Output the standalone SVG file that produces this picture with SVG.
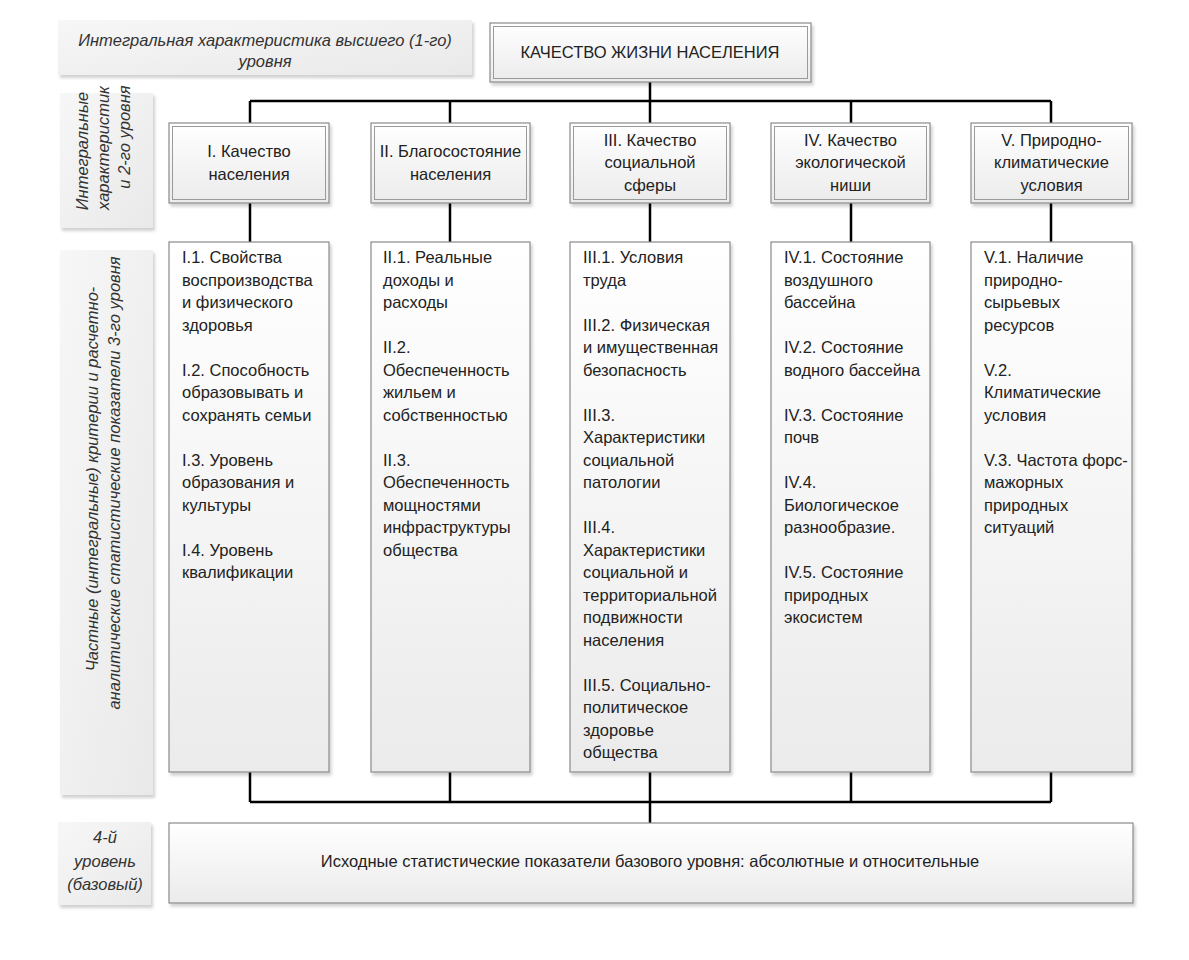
<svg xmlns="http://www.w3.org/2000/svg" width="1189" height="960" viewBox="0 0 1189 960">
<style>
.t{font-family:"Liberation Sans",Arial,sans-serif;font-size:16.5px;fill:#222}
.c{text-anchor:middle}
.it{font-family:"Liberation Sans",Arial,sans-serif;font-style:italic;font-size:16.5px;fill:#333;text-anchor:middle}
.box{fill:url(#g1);stroke:#8a8a8a;stroke-width:1.2}
.inner{fill:none;stroke:#9a9a9a;stroke-width:1}
.lbl{fill:url(#g2)}
.con{fill:none;stroke:#000;stroke-width:2.5}
</style>
<defs>
<linearGradient id="g1" x1="0" y1="0" x2="0" y2="1"><stop offset="0" stop-color="#ffffff"/><stop offset="1" stop-color="#ebebeb"/></linearGradient>
<linearGradient id="g2" x1="0" y1="0" x2="1" y2="1"><stop offset="0" stop-color="#f7f7f7"/><stop offset="1" stop-color="#e9e9e9"/></linearGradient>
<filter id="sh" x="-5%" y="-5%" width="115%" height="115%"><feDropShadow dx="2" dy="3" stdDeviation="1.5" flood-color="#000" flood-opacity="0.18"/></filter>
</defs>
<rect width="1189" height="960" fill="#ffffff"/>

<g id="connectors">
<path class="con" d="M650,82V101M250,101H1051M250,101V123M450,101V123M650,101V123M851,101V123M1051,101V123"/>
<path class="con" d="M250,203V242M450,203V242M650,203V242M851,203V242M1051,203V242"/>
<path class="con" d="M250,772V802M450,772V802M650,772V802M851,772V802M1051,772V802M250,802H1051M650,802V823"/>
</g>

<g id="label-level1">
<rect class="lbl" x="58" y="20" width="414" height="55" filter="url(#sh)"/>
<text class="it" x="265" y="46" font-size="18.2">Интегральная характеристика высшего (1-го)</text>
<text class="it" x="265" y="67" font-size="18.2">уровня</text>
</g>

<g id="label-level2">
<rect class="lbl" x="60" y="93" width="93" height="135" filter="url(#sh)"/>
<text class="it" font-size="17" transform="translate(88,151) rotate(-90)">Интегральные</text>
<text class="it" font-size="17" transform="translate(109,148) rotate(-90)">характеристик</text>
<text class="it" font-size="17" transform="translate(130,137) rotate(-90)">и 2-го уровня</text>
</g>

<g id="label-level3">
<rect class="lbl" x="60" y="250" width="93" height="545" filter="url(#sh)"/>
<text class="it" font-size="17.8" transform="translate(98,479) rotate(-90)">Частные (интегральные) критерии и расчетно-</text>
<text class="it" font-size="17.8" transform="translate(120,483) rotate(-90)">аналитические статистические показатели 3-го уровня</text>
</g>

<g id="label-level4">
<rect class="lbl" x="58" y="822" width="93" height="83" filter="url(#sh)"/>
<text class="it" x="105" y="843" font-size="17">4-й</text>
<text class="it" x="105" y="867" font-size="17">уровень</text>
<text class="it" x="105" y="890" font-size="17">(базовый)</text>
</g>

<g id="top">
<rect class="box" x="490" y="23" width="321" height="59" filter="url(#sh)"/>
<rect class="inner" x="493.5" y="26.5" width="314" height="52"/>
<text class="t c" x="650" y="58" font-size="16.3">КАЧЕСТВО ЖИЗНИ НАСЕЛЕНИЯ</text>
</g>

<g id="n1">
<rect class="box" x="169" y="123" width="160" height="80" filter="url(#sh)"/>
<rect class="inner" x="172.5" y="126.5" width="153" height="73"/>
<text class="t c" x="249" y="157">I. Качество</text>
<text class="t c" x="249" y="180">населения</text>
</g>
<g id="n2">
<rect class="box" x="371" y="123" width="159" height="80" filter="url(#sh)"/>
<rect class="inner" x="374.5" y="126.5" width="152" height="73"/>
<text class="t c" x="450.5" y="157">II. Благосостояние</text>
<text class="t c" x="450.5" y="180">населения</text>
</g>
<g id="n3">
<rect class="box" x="570" y="123" width="160" height="80" filter="url(#sh)"/>
<rect class="inner" x="573.5" y="126.5" width="153" height="73"/>
<text class="t c" x="650" y="146">III. Качество</text>
<text class="t c" x="650" y="168">социальной</text>
<text class="t c" x="650" y="191">сферы</text>
</g>
<g id="n4">
<rect class="box" x="771" y="123" width="159" height="80" filter="url(#sh)"/>
<rect class="inner" x="774.5" y="126.5" width="152" height="73"/>
<text class="t c" x="850.5" y="146">IV. Качество</text>
<text class="t c" x="850.5" y="168">экологической</text>
<text class="t c" x="850.5" y="191">ниши</text>
</g>
<g id="n5">
<rect class="box" x="971" y="123" width="161" height="80" filter="url(#sh)"/>
<rect class="inner" x="974.5" y="126.5" width="154" height="73"/>
<text class="t c" x="1051.5" y="146">V. Природно-</text>
<text class="t c" x="1051.5" y="168">климатические</text>
<text class="t c" x="1051.5" y="191">условия</text>
</g>

<g id="c1">
<rect class="box" x="169" y="242" width="160" height="530" filter="url(#sh)"/>
<text class="t" x="182" y="263">I.1. Свойства</text>
<text class="t" x="182" y="285.5">воспроизводства</text>
<text class="t" x="182" y="308">и физического</text>
<text class="t" x="182" y="330.5">здоровья</text>
<text class="t" x="182" y="375.5">I.2. Способность</text>
<text class="t" x="182" y="398">образовывать и</text>
<text class="t" x="182" y="420.5">сохранять семьи</text>
<text class="t" x="182" y="465.5">I.3. Уровень</text>
<text class="t" x="182" y="488">образования и</text>
<text class="t" x="182" y="510.5">культуры</text>
<text class="t" x="182" y="555.5">I.4. Уровень</text>
<text class="t" x="182" y="578">квалификации</text>
</g>
<g id="c2">
<rect class="box" x="371" y="242" width="159" height="530" filter="url(#sh)"/>
<text class="t" x="383" y="263">II.1. Реальные</text>
<text class="t" x="383" y="285.5">доходы и</text>
<text class="t" x="383" y="308">расходы</text>
<text class="t" x="383" y="353">II.2.</text>
<text class="t" x="383" y="375.5">Обеспеченность</text>
<text class="t" x="383" y="398">жильем и</text>
<text class="t" x="383" y="420.5">собственностью</text>
<text class="t" x="383" y="465.5">II.3.</text>
<text class="t" x="383" y="488">Обеспеченность</text>
<text class="t" x="383" y="510.5">мощностями</text>
<text class="t" x="383" y="533">инфраструктуры</text>
<text class="t" x="383" y="555.5">общества</text>
</g>
<g id="c3">
<rect class="box" x="570" y="242" width="160" height="530" filter="url(#sh)"/>
<text class="t" x="583" y="263">III.1. Условия</text>
<text class="t" x="583" y="285.5">труда</text>
<text class="t" x="583" y="330.5">III.2. Физическая</text>
<text class="t" x="583" y="353">и имущественная</text>
<text class="t" x="583" y="375.5">безопасность</text>
<text class="t" x="583" y="420.5">III.3.</text>
<text class="t" x="583" y="443">Характеристики</text>
<text class="t" x="583" y="465.5">социальной</text>
<text class="t" x="583" y="488">патологии</text>
<text class="t" x="583" y="533">III.4.</text>
<text class="t" x="583" y="555.5">Характеристики</text>
<text class="t" x="583" y="578">социальной и</text>
<text class="t" x="583" y="600.5">территориальной</text>
<text class="t" x="583" y="623">подвижности</text>
<text class="t" x="583" y="645.5">населения</text>
<text class="t" x="583" y="690.5">III.5. Социально-</text>
<text class="t" x="583" y="713">политическое</text>
<text class="t" x="583" y="735.5">здоровье</text>
<text class="t" x="583" y="758">общества</text>
</g>
<g id="c4">
<rect class="box" x="771" y="242" width="159" height="530" filter="url(#sh)"/>
<text class="t" x="784" y="263">IV.1. Состояние</text>
<text class="t" x="784" y="285.5">воздушного</text>
<text class="t" x="784" y="308">бассейна</text>
<text class="t" x="784" y="353">IV.2. Состояние</text>
<text class="t" x="784" y="375.5">водного бассейна</text>
<text class="t" x="784" y="420.5">IV.3. Состояние</text>
<text class="t" x="784" y="443">почв</text>
<text class="t" x="784" y="488">IV.4.</text>
<text class="t" x="784" y="510.5">Биологическое</text>
<text class="t" x="784" y="533">разнообразие.</text>
<text class="t" x="784" y="578">IV.5. Состояние</text>
<text class="t" x="784" y="600.5">природных</text>
<text class="t" x="784" y="623">экосистем</text>
</g>
<g id="c5">
<rect class="box" x="971" y="242" width="161" height="530" filter="url(#sh)"/>
<text class="t" x="984" y="263">V.1. Наличие</text>
<text class="t" x="984" y="285.5">природно-</text>
<text class="t" x="984" y="308">сырьевых</text>
<text class="t" x="984" y="330.5">ресурсов</text>
<text class="t" x="984" y="375.5">V.2.</text>
<text class="t" x="984" y="398">Климатические</text>
<text class="t" x="984" y="420.5">условия</text>
<text class="t" x="984" y="465.5">V.3. Частота форс-</text>
<text class="t" x="984" y="488">мажорных</text>
<text class="t" x="984" y="510.5">природных</text>
<text class="t" x="984" y="533">ситуаций</text>
</g>

<g id="base">
<rect class="box" x="169" y="823" width="964" height="80" filter="url(#sh)"/>
<text class="t c" x="650" y="867" font-size="18">Исходные статистические показатели базового уровня: абсолютные и относительные</text>
</g>
</svg>
